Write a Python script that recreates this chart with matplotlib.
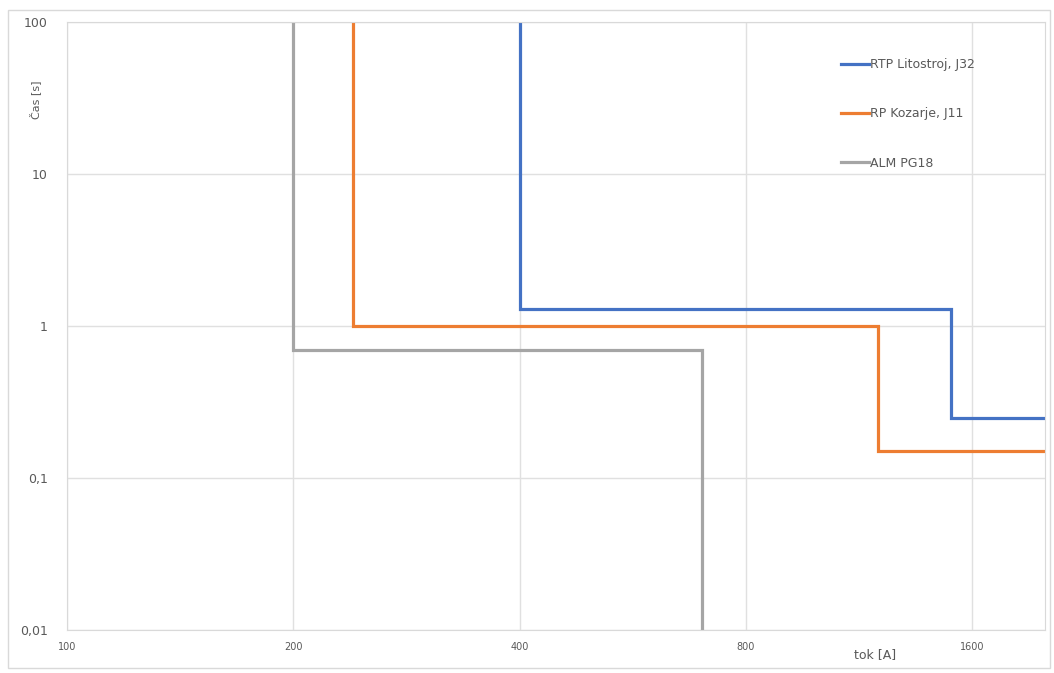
import matplotlib.pyplot as plt
from matplotlib.patches import Rectangle
from matplotlib.ticker import FixedLocator, FixedFormatter, NullLocator

# step curves (current [A], time [s])
rtp_x = [400, 400, 1500, 1500, 2000]
rtp_y = [100, 1.3, 1.3, 0.25, 0.25]
rp_x = [240, 240, 1200, 1200, 2000]
rp_y = [100, 1.0, 1.0, 0.15, 0.15]
alm_x = [200, 200, 700, 700]
alm_y = [100, 0.7, 0.7, 0.01]

labels = ['RTP Litostroj, J32', 'RP Kozarje, J11', 'ALM PG18']
colors = ['#4472C4', '#ED7D31', '#A5A5A5']

x_ticks = [100, 200, 400, 800, 1600]
y_ticks = [0.01, 0.1, 1, 10, 100]
y_tick_labels = ['0,01', '0,1', '1', '10', '100']

W, H = 1054, 673
fig = plt.figure(figsize=(W / 100, H / 100), dpi=100)
ax = fig.add_axes([67 / W, (H - 630) / H, (1045 - 67) / W, (630 - 22) / H])

for xs, ys, lab, c in zip([rtp_x, rp_x, alm_x], [rtp_y, rp_y, alm_y], labels, colors):
    ax.plot(xs, ys, color=c, lw=2.3, label=lab, solid_joinstyle='miter')

ax.set_xscale('log', base=2)
ax.set_yscale('log')
ax.set_xlim(100, 2000)
ax.set_ylim(0.01, 100)

ax.xaxis.set_major_locator(FixedLocator(x_ticks))
ax.xaxis.set_major_formatter(FixedFormatter([str(t) for t in x_ticks]))
ax.xaxis.set_minor_locator(NullLocator())
ax.yaxis.set_major_locator(FixedLocator(y_ticks))
ax.yaxis.set_major_formatter(FixedFormatter(y_tick_labels))
ax.yaxis.set_minor_locator(NullLocator())

ax.grid(True, color='#e0e0e0', lw=1)
ax.set_axisbelow(True)
for s in ax.spines.values():
    s.set_color('#d9d9d9')
ax.tick_params(axis='x', length=0, labelsize=7, colors='#595959', pad=9)
ax.tick_params(axis='y', length=0, labelsize=9, colors='#595959', pad=14)

fig.text(875 / W, 1 - 655 / H, 'tok [A]', ha='center', va='center', fontsize=9, color='#595959')
fig.text(35 / W, 1 - 100 / H, 'Čas [s]', ha='center', va='center', fontsize=8,
         color='#595959', rotation=90)

ax.legend(loc='upper left', bbox_to_anchor=(830 / W, 1 - 47 / H), bbox_transform=fig.transFigure,
          frameon=False, fontsize=9, labelcolor='#595959', handlelength=2.2,
          handletextpad=0.1, labelspacing=2.9)

fig.patches.append(Rectangle((8 / W, 1 - 668 / H), (1050 - 8) / W, (668 - 10) / H,
                             transform=fig.transFigure, fill=False, edgecolor='#d9d9d9', lw=1))

fig.savefig('out.png', dpi=100)
